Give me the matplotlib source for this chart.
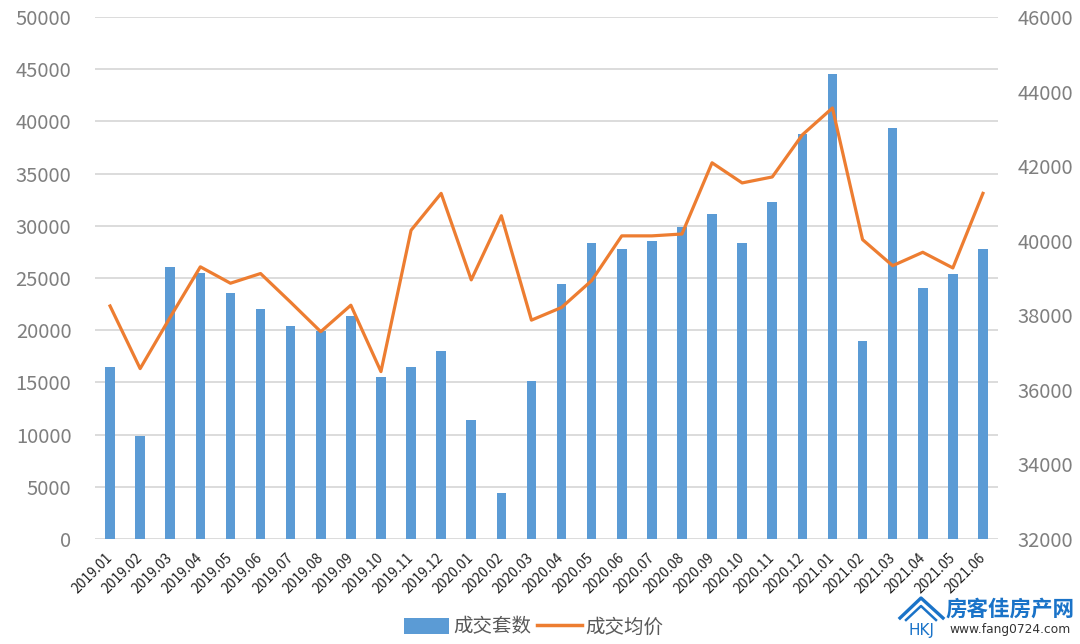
import matplotlib.pyplot as plt
from matplotlib.lines import Line2D
from matplotlib.patches import Patch

plt.rcParams['font.family'] = ['Noto Sans CJK SC', 'DejaVu Sans']

# 月份
months = ['2019.01', '2019.02', '2019.03', '2019.04', '2019.05', '2019.06',
          '2019.07', '2019.08', '2019.09', '2019.10', '2019.11', '2019.12',
          '2020.01', '2020.02', '2020.03', '2020.04', '2020.05', '2020.06',
          '2020.07', '2020.08', '2020.09', '2020.10', '2020.11', '2020.12',
          '2021.01', '2021.02', '2021.03', '2021.04', '2021.05', '2021.06']

# 成交套数 (左轴)
deals = [16500, 9900, 26100, 25500, 23600, 22000,
         20450, 19900, 21400, 15500, 16500, 18000,
         11400, 4400, 15100, 24400, 28400, 27800,
         28500, 29900, 31100, 28400, 32300, 38800,
         44500, 19000, 39400, 24000, 25400, 27800]

# 成交均价 (右轴)
avg_price = [38250, 36570, 37950, 39300, 38860, 39120,
             38350, 37560, 38270, 36490, 40280, 41270,
             38950, 40670, 37870, 38210, 38930, 40130,
             40130, 40180, 42090, 41550, 41710, 42840,
             43560, 40030, 39330, 39690, 39270, 41270]

left_ticks = list(range(0, 50001, 5000))
right_ticks = list(range(32000, 46001, 2000))

BAR_C = '#5B9BD5'
LINE_C = '#ED7D31'
TICK_C = '#7f7f7f'
W, H = 1080, 644


def fx(px):
    return px / W


def fy(py):
    return 1 - py / H


fig = plt.figure(figsize=(10.8, 6.44), dpi=100)
ax = fig.add_axes([fx(95), fy(539), (998 - 95) / W, (539 - 17) / H])
x = list(range(len(months)))

ax.bar(x, deals, width=0.32, color=BAR_C, zorder=2)
ax.set_xlim(-0.5, len(months) - 0.5)
ax.set_ylim(0, 50000)
ax.set_yticks(left_ticks)
ax.set_yticklabels([str(t) for t in left_ticks])
ax.grid(axis='y', color='#d9d9d9', linewidth=1.3, zorder=0)
ax.set_axisbelow(True)
for s in ax.spines.values():
    s.set_visible(False)
ax.tick_params(axis='y', length=0, pad=17, labelsize=14.5, labelcolor=TICK_C)
ax.set_xticks(x)
ax.set_xticklabels(months, rotation=45, ha='right', va='center',
                   rotation_mode='anchor', fontsize=10, color='#222222')
ax.tick_params(axis='x', length=0, pad=12)

ax2 = ax.twinx()
ax2.plot(x, avg_price, color=LINE_C, linewidth=2.3, zorder=3)
ax2.set_ylim(32000, 46000)
ax2.set_yticks(right_ticks)
ax2.set_yticklabels([str(t) for t in right_ticks])
for s in ax2.spines.values():
    s.set_visible(False)
ax2.tick_params(axis='y', length=0, pad=14, labelsize=14.5, labelcolor=TICK_C)

# 图例
handles = [Patch(facecolor=BAR_C, edgecolor='none'),
           Line2D([0], [0], color=LINE_C, linewidth=2.5)]
fig.legend(handles, ['成交套数', '成交均价'], loc='center', bbox_to_anchor=(fx(534), fy(627)),
           ncol=2, frameon=False, fontsize=14, labelcolor='#595959',
           handlelength=2.3, handleheight=0.9, columnspacing=0.3, handletextpad=0.2)

# 水印
LOGO_C = '#1a73c8'
fig.text(fx(1010), fy(609), '房客佳房产网', color=LOGO_C, fontsize=15.5, fontweight='bold',
         ha='center', va='center')
fig.text(fx(1010), fy(630), 'www.fang0724.com', color='#333333', fontsize=8.8,
         ha='center', va='center', family=['DejaVu Sans'])
fig.add_artist(Line2D([fx(900), fx(921), fx(943)], [fy(618), fy(598), fy(618)],
                      color=LOGO_C, linewidth=2.4, transform=fig.transFigure))
fig.add_artist(Line2D([fx(906), fx(921), fx(936)], [fy(620), fy(606), fy(620)],
                      color=LOGO_C, linewidth=1.8, transform=fig.transFigure))
fig.text(fx(921), fy(630), 'HKJ', color=LOGO_C, fontsize=11, ha='center', va='center',
         family=['DejaVu Sans'])

fig.savefig('out.png', dpi=100)
